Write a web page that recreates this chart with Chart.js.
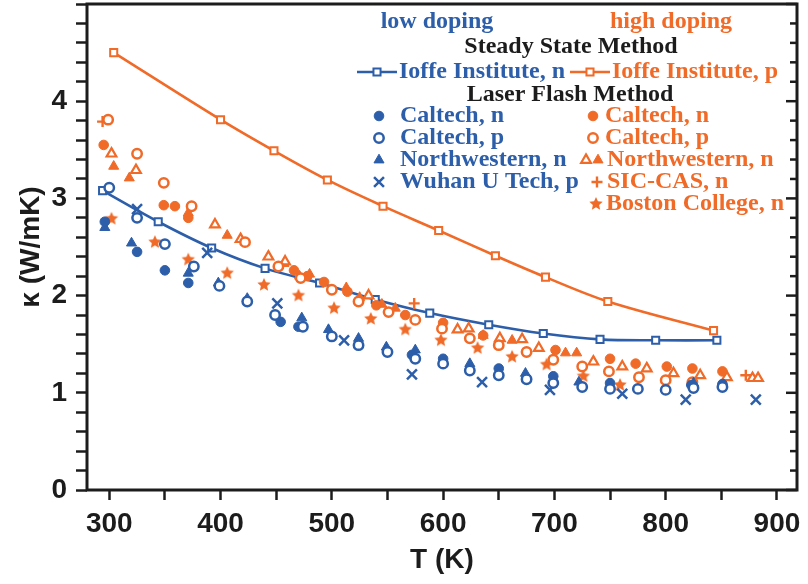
<!DOCTYPE html>
<html>
<head>
<meta charset="utf-8">
<script src="https://cdn.jsdelivr.net/npm/chart.js@4.4.1/dist/chart.umd.min.js"></script>
<style>
  html, body { margin: 0; padding: 0; background: #fff; }
  canvas { display: block; }
</style>
</head>
<body>
<canvas id="chart" width="808" height="584"></canvas>
<script>
// ---- data (T in K, kappa in W/mK) ----
var ioffeN_T = [294, 344, 392, 440, 489, 539, 588, 641, 690, 741, 791, 846];
var ioffeN_k = [3.08, 2.76, 2.49, 2.28, 2.13, 1.96, 1.82, 1.70, 1.61, 1.55, 1.54, 1.54];
var ioffeP_T = [304, 400, 448, 496, 546, 596, 647, 692, 748, 843];
var ioffeP_k = [4.50, 3.81, 3.49, 3.19, 2.92, 2.67, 2.41, 2.19, 1.94, 1.64];

var calN_low_T = [296, 325, 350, 371, 454, 470, 572, 600, 650, 699, 750, 823, 851];
var calN_low_k = [2.76, 2.45, 2.26, 2.13, 1.73, 1.68, 1.39, 1.35, 1.25, 1.17, 1.10, 1.08, 1.09];
var calP_low_T = [300, 325, 350, 376, 399, 424, 449, 474, 500, 524, 550, 575, 600, 624, 650, 675, 699, 725, 750, 775, 800, 825, 851];
var calP_low_k = [3.11, 2.80, 2.53, 2.30, 2.10, 1.94, 1.80, 1.68, 1.58, 1.49, 1.42, 1.35, 1.30, 1.23, 1.18, 1.14, 1.10, 1.06, 1.04, 1.04, 1.03, 1.05, 1.06];
var nwN_low_T = [296, 320, 371, 398, 424, 473, 497, 524, 549, 575, 624, 674, 722, 825];
var nwN_low_k = [2.70, 2.54, 2.23, 2.13, 1.97, 1.77, 1.65, 1.56, 1.47, 1.44, 1.30, 1.20, 1.11, 1.10];
var wuhan_T = [325, 388, 451, 511, 572, 635, 696, 761, 818, 881];
var wuhan_k = [2.89, 2.44, 1.92, 1.54, 1.19, 1.11, 1.03, 0.99, 0.93, 0.93];

var calN_high_T = [295, 349, 359, 371, 452, 466, 478, 493, 514, 540, 566, 600, 636, 701, 750, 773, 801, 824, 851];
var calN_high_k = [3.55, 2.93, 2.92, 2.80, 2.30, 2.26, 2.20, 2.14, 2.04, 1.90, 1.80, 1.72, 1.59, 1.44, 1.35, 1.30, 1.27, 1.25, 1.22];
var calP_high_T = [299, 325, 349, 374, 422, 452, 472, 500, 524, 551, 575, 599, 624, 650, 675, 699, 725, 749, 776, 800, 824];
var calP_high_k = [3.81, 3.46, 3.16, 2.92, 2.55, 2.30, 2.18, 2.06, 1.94, 1.83, 1.75, 1.66, 1.56, 1.49, 1.42, 1.34, 1.27, 1.22, 1.16, 1.13, 1.11];
var nwFill_high_T = [304, 318, 371, 406, 457, 471, 480, 513, 525, 545, 557, 636, 662, 710, 720];
var nwFill_high_k = [3.33, 3.21, 2.85, 2.62, 2.33, 2.20, 2.22, 2.08, 1.98, 1.91, 1.87, 1.59, 1.54, 1.41, 1.41];
var nwOpen_high_T = [302, 324, 395, 418, 443, 458, 533, 613, 623, 651, 671, 686, 735, 761, 783, 807, 831, 855, 878, 883];
var nwOpen_high_k = [3.46, 3.29, 2.73, 2.58, 2.40, 2.35, 2.00, 1.65, 1.66, 1.56, 1.55, 1.46, 1.32, 1.27, 1.25, 1.20, 1.18, 1.16, 1.15, 1.15];
var sic_T = [294, 574, 872];
var sic_k = [3.79, 1.92, 1.18];
var boston_T = [302, 341, 371, 406, 439, 470, 502, 535, 566, 598, 631, 662, 693, 726, 759];
var boston_k = [2.79, 2.55, 2.37, 2.23, 2.11, 2.00, 1.87, 1.76, 1.65, 1.54, 1.46, 1.37, 1.29, 1.17, 1.08];

// axis ranges and tick steps
var xMin = 280, xMax = 918, xStep = 50, xLabelStep = 100;
var yMin = 0, yMax = 5, yStep = 0.2, yLabelMax = 4;

// ---- styles ----
var BLUE = '#2c5ea9';
var ORANGE = '#f06a28';
var INK = '#1c1c1c';
var SERIF = '"Liberation Serif", "DejaVu Serif", serif';
var SANS = '"Liberation Sans", Arial, sans-serif';

function pts(xs, ys) {
	return xs.map(function(x, i) { return { x: x, y: ys[i] }; });
}

function stepTicks(min, max, step) {
	var out = [];
	var n0 = Math.ceil(min / step - 1e-9), n1 = Math.floor(max / step + 1e-9);
	for (var n = n0; n <= n1; n++) out.push({ value: Math.round(n * step * 1000) / 1000 });
	return out;
}

function makeStar(color, r) {
	var c = document.createElement('canvas');
	c.width = c.height = 2 * r + 2;
	var g = c.getContext('2d');
	g.fillStyle = color;
	g.beginPath();
	for (var i = 0; i < 10; i++) {
		var rad = i % 2 ? r * 0.47 : r;
		var a = -Math.PI / 2 + i * Math.PI / 5;
		g.lineTo(r + 1 + rad * Math.cos(a), r + 1 + rad * Math.sin(a));
	}
	g.closePath();
	g.fill();
	return c;
}
var starImg = makeStar(ORANGE, 7);

function marker(data, style, color, filled, radius, bw) {
	return {
		data: data,
		showLine: false,
		pointStyle: style,
		pointRadius: radius,
		pointHoverRadius: radius,
		borderColor: color,
		backgroundColor: filled ? color : '#ffffff',
		pointBackgroundColor: filled ? color : '#ffffff',
		pointBorderColor: color,
		pointBorderWidth: bw,
		borderWidth: bw
	};
}

var dsCalNLow = marker(pts(calN_low_T, calN_low_k), 'circle', BLUE, true, 4.8, 1);
var dsCalPLow = marker(pts(calP_low_T, calP_low_k), 'circle', BLUE, false, 4.7, 2.5);
var dsNwLow = marker(pts(nwN_low_T, nwN_low_k), 'triangle', BLUE, true, 5.8, 1);
var dsWuhan = marker(pts(wuhan_T, wuhan_k), 'crossRot', BLUE, false, 7, 2.5);
var dsCalNHigh = marker(pts(calN_high_T, calN_high_k), 'circle', ORANGE, true, 4.8, 1);
var dsCalPHigh = marker(pts(calP_high_T, calP_high_k), 'circle', ORANGE, false, 4.7, 2.5);
var dsNwFill = marker(pts(nwFill_high_T, nwFill_high_k), 'triangle', ORANGE, true, 5.8, 1);
var dsNwOpen = marker(pts(nwOpen_high_T, nwOpen_high_k), 'triangle', ORANGE, false, 5.6, 2.2);
var dsSic = marker(pts(sic_T, sic_k), 'cross', ORANGE, false, 5.5, 2.4);
var dsBoston = marker(pts(boston_T, boston_k), starImg, ORANGE, true, 7, 1);

function ioffe(data, color) {
	return {
		data: data,
		showLine: true,
		tension: 0.35,
		borderColor: color,
		borderWidth: 2.6,
		pointStyle: 'rect',
		pointRadius: 5,
		pointHoverRadius: 5,
		pointBackgroundColor: '#ffffff',
		pointBorderColor: color,
		pointBorderWidth: 2,
		backgroundColor: '#ffffff'
	};
}
var dsIoffeN = ioffe(pts(ioffeN_T, ioffeN_k), BLUE);
var dsIoffeP = ioffe(pts(ioffeP_T, ioffeP_k), ORANGE);

// ---- legend / frame plugin ----
function drawMark(ctx, ds, x, y) {
	ctx.save();
	ctx.fillStyle = ds.pointBackgroundColor;
	ctx.strokeStyle = ds.pointBorderColor;
	ctx.lineWidth = ds.pointBorderWidth;
	Chart.helpers.drawPoint(ctx, {
		pointStyle: ds.pointStyle,
		radius: ds.pointRadius,
		borderWidth: ds.pointBorderWidth,
		rotation: 0
	}, x, y);
	ctx.restore();
}

var framePlugin = {
	id: 'frame',
	afterDatasetsDraw: function(chart) {
		var ctx = chart.ctx;
		var a = chart.chartArea;
		var ys = chart.scales.y;
		ctx.save();
		// inward ticks on the right side
		ctx.strokeStyle = INK;
		ctx.lineWidth = 2.5;
		ys.ticks.forEach(function(t) {
			var py = ys.getPixelForValue(t.value);
			var major = Math.abs(t.value - Math.round(t.value)) < 1e-6;
			ctx.beginPath();
			ctx.moveTo(a.right, py);
			ctx.lineTo(a.right - (major ? 11 : 7), py);
			ctx.stroke();
		});
		// box
		ctx.lineWidth = 3;
		ctx.strokeRect(a.left, a.top, a.right - a.left, a.bottom - a.top);
		ctx.restore();
	}
};

var legendPlugin = {
	id: 'customLegend',
	afterDraw: function(chart) {
		var ctx = chart.ctx;
		ctx.save();
		ctx.font = 'bold 24px ' + SERIF;
		ctx.textBaseline = 'middle';

		function text(str, x, y, color, align) {
			ctx.fillStyle = color;
			ctx.textAlign = align || 'left';
			ctx.fillText(str, x, y);
		}

		text('low doping', 437, 22, BLUE, 'center');
		text('high doping', 671, 22, ORANGE, 'center');
		text('Steady State Method', 571, 47, INK, 'center');

		// Ioffe row: line + marker + text, two entries
		var rowY = 72;
		var x0 = 357;
		[[dsIoffeN, 'Ioffe Institute, n', BLUE], [dsIoffeP, 'Ioffe Institute, p', ORANGE]].forEach(function(e) {
			ctx.strokeStyle = e[2];
			ctx.lineWidth = 2.6;
			ctx.beginPath();
			ctx.moveTo(x0, rowY);
			ctx.lineTo(x0 + 40, rowY);
			ctx.stroke();
			drawMark(ctx, e[0], x0 + 20, rowY);
			text(e[1], x0 + 42, rowY, e[2]);
			x0 = x0 + 42 + ctx.measureText(e[1]).width + 5;
		});

		text('Laser Flash Method', 570, 95, INK, 'center');

		var rows = [116, 138, 160, 182, 204];
		var left = [
			[dsCalNLow, 'Caltech, n'],
			[dsCalPLow, 'Caltech, p'],
			[dsNwLow, 'Northwestern, n'],
			[dsWuhan, 'Wuhan U Tech, p']
		];
		left.forEach(function(e, i) {
			drawMark(ctx, e[0], 379, rows[i]);
			text(e[1], 400, rows[i], BLUE);
		});

		drawMark(ctx, dsCalNHigh, 593, rows[0]);
		text('Caltech, n', 605, rows[0], ORANGE);
		drawMark(ctx, dsCalPHigh, 593, rows[1]);
		text('Caltech, p', 605, rows[1], ORANGE);
		drawMark(ctx, dsNwOpen, 586, rows[2]);
		drawMark(ctx, dsNwFill, 598, rows[2]);
		text('Northwestern, n', 607, rows[2], ORANGE);
		drawMark(ctx, dsSic, 597, rows[3]);
		text('SIC-CAS, n', 607, rows[3], ORANGE);
		drawMark(ctx, dsBoston, 596, rows[4]);
		text('Boston College, n', 606, rows[4], ORANGE);

		ctx.restore();
	}
};

// ---- chart ----
var ctx = document.getElementById('chart');

var config = {
	type: 'scatter',
	data: {
		datasets: [
			dsCalPLow, dsCalNLow, dsNwLow, dsWuhan,
			dsCalPHigh, dsCalNHigh, dsNwOpen, dsNwFill, dsSic, dsBoston,
			dsIoffeN, dsIoffeP
		]
	},
	options: {
		responsive: false,
		animation: false,
		layout: {
			autoPadding: false,
			padding: { left: 0, right: 11, top: 4, bottom: 0 }
		},
		plugins: {
			legend: { display: false },
			tooltip: { enabled: false },
			title: { display: false }
		},
		scales: {
			x: {
				type: 'linear',
				min: xMin,
				max: xMax,
				afterBuildTicks: function(s) {
					s.ticks = stepTicks(xMin, xMax, xStep);
				},
				afterFit: function(s) {
					s.height = 94;
					s.paddingLeft = 0;
					s.paddingRight = 0;
				},
				ticks: {
					autoSkip: false,
					maxRotation: 0,
					padding: 7,
					color: INK,
					font: { family: SANS, size: 28, weight: 'bold' },
					callback: function(v) { return v % xLabelStep === 0 ? v : ''; }
				},
				grid: {
					drawOnChartArea: false,
					tickLength: 10,
					tickColor: INK,
					tickWidth: 2.5
				},
				border: { display: false },
				title: {
					display: true,
					text: 'T (K)',
					color: INK,
					font: { family: SANS, size: 28, weight: 'bold' },
					padding: { top: 0, bottom: 7 }
				}
			},
			y: {
				type: 'linear',
				min: yMin,
				max: yMax,
				afterBuildTicks: function(s) {
					s.ticks = stepTicks(yMin, yMax, yStep);
				},
				afterFit: function(s) {
					s.width = 87;
					s.paddingTop = 0;
					s.paddingBottom = 0;
				},
				ticks: {
					autoSkip: false,
					padding: 9,
					color: INK,
					font: { family: SANS, size: 28, weight: 'bold' },
					callback: function(v) {
						var whole = Math.abs(v - Math.round(v)) < 1e-6;
						return whole && v <= yLabelMax ? Math.round(v) : '';
					}
				},
				grid: {
					drawOnChartArea: false,
					tickLength: 11,
					tickColor: INK,
					tickWidth: 2.5
				},
				border: { display: false },
				title: {
					display: true,
					text: 'κ (W/mK)',
					color: INK,
					font: { family: SANS, size: 28, weight: 'bold' },
					padding: { top: 14, bottom: 0 }
				}
			}
		}
	},
	plugins: [framePlugin, legendPlugin]
};

var chart = new Chart(ctx, config);
</script>
</body>
</html>
